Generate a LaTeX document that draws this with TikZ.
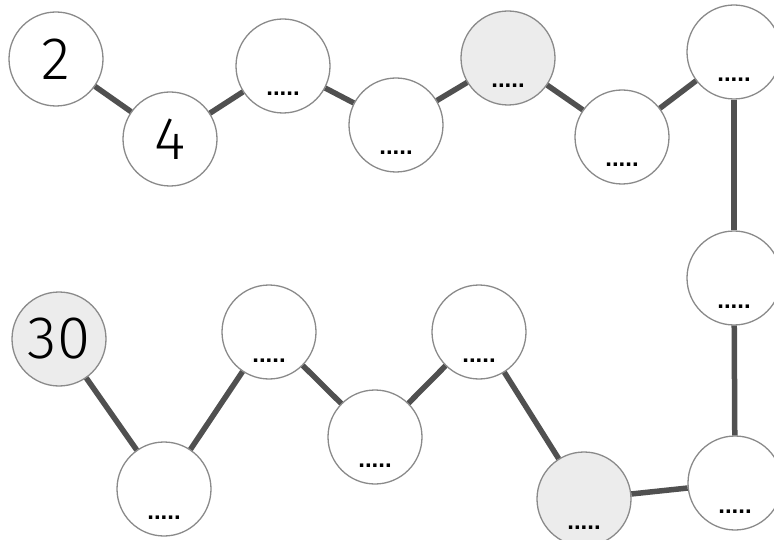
\documentclass[tikz,border=0pt]{standalone}
\usepackage{fontspec}
\setmainfont{Liberation Sans}
\newfontfamily\numfont{Fira Sans Light}
\definecolor{ballline}{HTML}{8A8A8A}
\definecolor{ballgray}{HTML}{ECECEC}
\definecolor{linkcol}{HTML}{505050}
\begin{document}
\begin{tikzpicture}[x=1pt,y=-1pt,
  ball/.style={circle,draw=ballline,line width=1.3pt,fill=white,minimum size=94pt,inner sep=0pt,font=\numfont\fontsize{60}{60}\selectfont},
  grayball/.style={ball,fill=ballgray},
  link/.style={draw=linkcol,line width=5.5pt},
  dotlabel/.style={anchor=base,inner sep=0pt,font=\bfseries\fontsize{24}{24}\selectfont}]
\useasboundingbox (0,0) rectangle (774,540);
\clip (0,0) rectangle (774,540);
% top row
\node[ball] (t1) at (56,59) {2};
\node[ball] (t2) at (170,139) {4};
\node[ball] (t3) at (283,66) {};
\node[ball] (t4) at (396,125) {};
\node[grayball] (t5) at (508,58) {};
\node[ball] (t6) at (622,137) {};
\node[ball] (t7) at (734,52) {};
% right column
\node[ball] (r1) at (734,278) {};
% bottom row
\node[grayball] (b1) at (59,339) {30};
\node[ball] (b2) at (164,489) {};
\node[ball] (b3) at (269,332) {};
\node[ball] (b4) at (375,437) {};
\node[ball] (b5) at (479,332) {};
\node[grayball] (b6) at (584,499) {};
\node[ball] (b7) at (735,483) {};
% dots
\foreach \n in {t3,t4,t5,t6,t7,r1,b2,b3,b4,b5,b6,b7}
  \node[dotlabel] (\n d) at ([yshift=-30pt]\n.center) {.....};
% links
\draw[link] (t1) -- (t2);
\draw[link] (t2) -- (t3);
\draw[link] (t3) -- (t4);
\draw[link] (t4) -- (t5);
\draw[link] (t5) -- (t6);
\draw[link] (t6) -- (t7);
\draw[link] (t7) -- (r1);
\draw[link] (r1) -- (b7);
\draw[link] (b7) -- (b6);
\draw[link] (b6) -- (b5);
\draw[link] (b5) -- (b4);
\draw[link] (b4) -- (b3);
\draw[link] (b3) -- (b2);
\draw[link] (b2) -- (b1);
\end{tikzpicture}
\end{document}
